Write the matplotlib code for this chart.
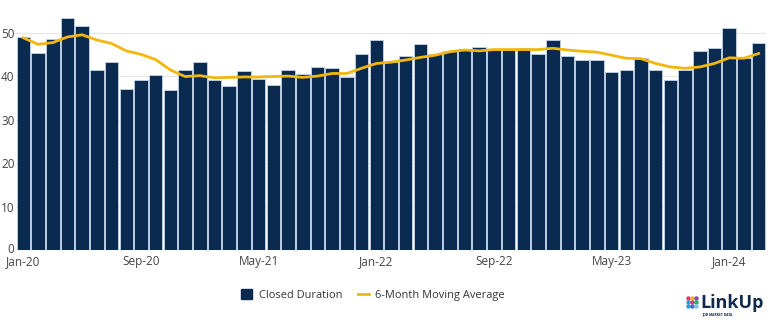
import matplotlib
matplotlib.use("Agg")
import matplotlib.pyplot as plt
from matplotlib.lines import Line2D
from matplotlib.patches import Patch
from matplotlib.transforms import ScaledTranslation
import numpy as np

months = ["Jan-20","Feb-20","Mar-20","Apr-20","May-20","Jun-20","Jul-20","Aug-20","Sep-20","Oct-20","Nov-20","Dec-20",
          "Jan-21","Feb-21","Mar-21","Apr-21","May-21","Jun-21","Jul-21","Aug-21","Sep-21","Oct-21","Nov-21","Dec-21",
          "Jan-22","Feb-22","Mar-22","Apr-22","May-22","Jun-22","Jul-22","Aug-22","Sep-22","Oct-22","Nov-22","Dec-22",
          "Jan-23","Feb-23","Mar-23","Apr-23","May-23","Jun-23","Jul-23","Aug-23","Sep-23","Oct-23","Nov-23","Dec-23",
          "Jan-24","Feb-24","Mar-24"]
closed_duration = [48.9, 45.4, 48.6, 53.4, 51.5, 41.4, 43.3, 37.1, 39.2, 40.3, 36.7, 41.4,
                   43.3, 39.0, 37.8, 41.1, 39.3, 37.9, 41.5, 40.5, 42.0, 41.8, 39.8, 45.1,
                   48.4, 43.2, 44.7, 47.4, 45.0, 45.7, 46.3, 46.7, 46.0, 46.1, 46.4, 45.1,
                   48.4, 44.7, 43.8, 43.8, 40.9, 41.4, 44.1, 41.3, 39.0, 41.5, 45.7, 46.4,
                   51.0, 44.1, 47.6]
moving_avg = [48.8, 47.3, 47.7, 49.0, 49.5, 48.3, 47.5, 45.8, 45.0, 43.8, 41.4, 39.9,
              40.1, 39.6, 39.7, 39.8, 39.8, 39.9, 40.0, 39.7, 40.0, 40.6, 40.6, 41.8,
              42.9, 43.2, 43.7, 44.3, 44.8, 45.6, 46.0, 45.8, 46.1, 46.1, 46.1, 46.1,
              46.4, 46.0, 45.7, 45.5, 44.8, 44.1, 44.0, 42.9, 42.1, 41.8, 42.1, 42.9,
              44.2, 44.1, 45.2]
tick_labels = ["Jan-20", "Sep-20", "May-21", "Jan-22", "Sep-22", "May-23", "Jan-24"]
y_ticks = [0, 10, 20, 30, 40, 50]

BAR = "#0b2a4f"
GOLD = "#f2b70f"

plt.rcParams['font.family'] = ['Open Sans', 'DejaVu Sans']

fig = plt.figure(figsize=(7.68, 3.22), dpi=100)
ax = fig.add_axes([16/768, 72/322, 750/768, 240/322])

x = np.arange(len(months))
ax.bar(x, closed_duration, width=0.92, color=BAR, edgecolor="#c3d5ec", linewidth=0.6, zorder=2)
ax.plot(x, moving_avg, color=GOLD, linewidth=2, zorder=3)

ax.set_xlim(-0.5, len(months) - 0.5)
ax.set_ylim(0, 55.2)
ax.set_yticks(y_ticks)
ax.set_yticklabels([str(v) for v in y_ticks], fontsize=8.5, color="#444444")
tick_pos = [months.index(m) for m in tick_labels]
ax.set_xticks(tick_pos)
ax.set_xticklabels(tick_labels, fontsize=8.5, color="#444444")
ax.tick_params(axis='x', length=0, pad=3.5)
ax.tick_params(axis='y', length=0, pad=1)
# nudge the "0" label up slightly so it doesn't collide with "Jan-20"
zero_lbl = ax.get_yticklabels()[0]
zero_lbl.set_transform(zero_lbl.get_transform() + ScaledTranslation(0, 2/100, fig.dpi_scale_trans))
ax.grid(axis='y', color="#e6e6e6", linewidth=0.8, zorder=0)
ax.set_axisbelow(True)
for s in ax.spines.values():
    s.set_visible(False)

handles = [Patch(facecolor=BAR, edgecolor=BAR, label="Closed Duration"),
           Line2D([0], [0], color=GOLD, linewidth=2, label="6-Month Moving Average")]
fig.legend(handles=handles, loc="center", bbox_to_anchor=(373/768, 1 - 295/322), ncol=2,
           frameon=False, fontsize=7.9, handlelength=1.0, handleheight=1.0,
           columnspacing=1.4, handletextpad=0.6, labelcolor="#333333")

# LinkUp logo
dot_colors = [["#e8336d", "#f5b800", "#8e44ad"],
              ["#2d9cdb", "#e8336d", "#27ae60"],
              ["#2d9cdb", "#3b6fd8", "#7bc6e8"]]
for r in range(3):
    for c in range(3):
        fig.add_artist(Line2D([(688 + c*4.2)/768], [1 - (298 + r*4.2)/322], marker='o',
                              markersize=2.2, color=dot_colors[r][c], linestyle='none',
                              transform=fig.transFigure))
fig.text(700/768, 1 - 303/322, "LinkUp", fontsize=13, fontweight="bold", color="#13294b",
         va="center", ha="left")
fig.text(702/768, 1 - 314/322, "JOB MARKET DATA", fontsize=2.4, fontweight="bold",
         color="#13294b", va="center", ha="left")

fig.savefig("out.png", dpi=100)
